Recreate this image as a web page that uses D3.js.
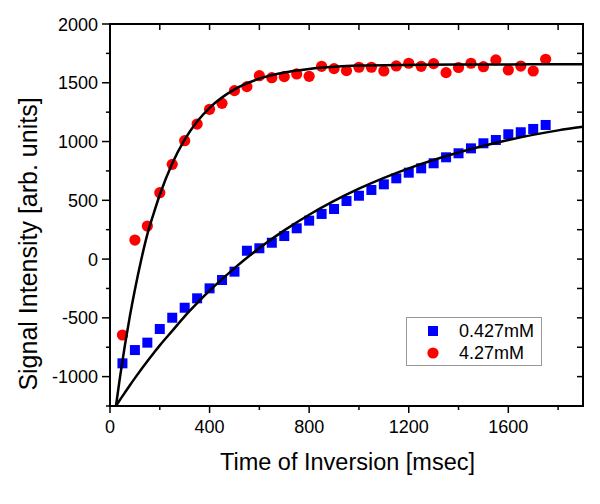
<!DOCTYPE html>
<html><head><meta charset="utf-8">
<script src="https://cdn.jsdelivr.net/npm/d3@7"></script>
<style>body{margin:0;background:#fff}svg{display:block}text{font-family:"Liberation Sans",Arial,sans-serif}</style>
</head><body>
<script>
// ---- data ----
const times = [50,100,150,200,250,300,350,400,450,500,550,600,650,700,750,800,850,900,950,1000,1050,1100,1150,1200,1250,1300,1350,1400,1450,1500,1550,1600,1650,1700,1750];
const low = [-887,-774,-711,-595,-499,-414,-334,-249,-178,-107,71,92,139,196,262,327,384,426,494,539,588,636,687,735,772,815,866,900,942,985,1013,1062,1079,1107,1141];
const high = [-646,162,281,565,806,1007,1149,1274,1325,1433,1467,1560,1543,1552,1575,1555,1640,1620,1603,1632,1632,1600,1643,1666,1640,1663,1586,1630,1666,1637,1694,1609,1642,1600,1700];
const fitT = [24,40,60,80,100,125,150,175,200,250,300,350,400,500,600,700,800,900,1000,1200,1400,1600,1800,1900];
const fitHigh = [-1250,-1006,-731,-483,-261,-10,210,385,547,814,1016,1170,1287,1444,1535,1588,1618,1636,1646,1652,1655,1656,1657,1657];
const fitLow = [-1250,-1198,-1135,-1073,-1013,-940,-869,-801,-734,-611,-487,-375,-269,-77,94,244,377,495,599,772,907,1013,1095,1125];
const seriesNames = ["0.427mM","4.27mM"];
const xTicks = [0,400,800,1200,1600];
const yTicks = [-1000,-500,0,500,1000,1500,2000];
const xLabel = "Time of Inversion [msec]";
const yLabel = "Signal Intensity [arb. units]";

// ---- layout ----
const W=600,H=504, L=110, T=24, R=583, B=406;
const svg = d3.select("body").append("svg").attr("width",W).attr("height",H);
const x = d3.scaleLinear().domain([0,1900]).range([L,R]);
const y = d3.scaleLinear().domain([-1250,2000]).range([B,T]);

svg.append("defs").append("clipPath").attr("id","clip")
  .append("rect").attr("x",L).attr("y",T).attr("width",R-L).attr("height",B-T);

// axes
const minorX = d3.range(0,1901,200);
const minorY = d3.range(-1250,2001,250);
const ax = svg.append("g").attr("stroke","#000").attr("stroke-width",1.5);
minorX.forEach(v=>{const len = v%400===0?7:4;
  ax.append("line").attr("x1",x(v)).attr("x2",x(v)).attr("y1",B).attr("y2",B+len);});
minorX.forEach(v=>{ax.append("line").attr("x1",x(v)).attr("x2",x(v)).attr("y1",T).attr("y2",T+6);});
minorY.forEach(v=>{const len = v%500===0?8:4;
  ax.append("line").attr("x1",L).attr("x2",L-len).attr("y1",y(v)).attr("y2",y(v));});
minorY.forEach(v=>{ax.append("line").attr("x1",R).attr("x2",R-6).attr("y1",y(v)).attr("y2",y(v));});
svg.append("rect").attr("x",L).attr("y",T).attr("width",R-L).attr("height",B-T)
  .attr("fill","none").attr("stroke","#000").attr("stroke-width",2);

// tick labels
svg.append("g").selectAll("text").data(xTicks).join("text")
  .attr("x",d=>x(d)).attr("y",433).attr("text-anchor","middle").attr("font-size",18).text(d=>d);
svg.append("g").selectAll("text").data(yTicks).join("text")
  .attr("x",98).attr("y",d=>y(d)+6.5).attr("text-anchor","end").attr("font-size",18).text(d=>d);

svg.append("text").attr("x",(L+R)/2+1).attr("y",470).attr("text-anchor","middle").attr("font-size",23.5).text(xLabel);
svg.append("text").attr("transform","translate(37,244) rotate(-90)").attr("text-anchor","middle").attr("font-size",25).text(yLabel);

// points
const g = svg.append("g").attr("clip-path","url(#clip)");
const sq = 10;
g.selectAll("rect.low").data(times).join("rect").attr("class","low")
  .attr("x",(d)=>x(d)-sq/2).attr("y",(d,i)=>y(low[i])-sq/2).attr("width",sq).attr("height",sq).attr("fill","#0000ff");
g.selectAll("circle.high").data(times).join("circle").attr("class","high")
  .attr("cx",d=>x(d)).attr("cy",(d,i)=>y(high[i])).attr("r",5.6).attr("fill","#ff0000");

// fit lines
const line = d3.line().curve(d3.curveMonotoneX).x(d=>x(d[0])).y(d=>y(d[1]));
[fitHigh,fitLow].forEach(arr=>{
  g.append("path").attr("d",line(fitT.map((t,i)=>[t,arr[i]]))).attr("fill","none")
   .attr("stroke","#000").attr("stroke-width",2.5);
});

// legend
const lg = svg.append("g");
lg.append("rect").attr("x",406.5).attr("y",317.5).attr("width",135).attr("height",48)
  .attr("fill","#fff").attr("stroke","#999").attr("stroke-width",1);
lg.append("rect").attr("x",433-sq/2).attr("y",331-sq/2).attr("width",sq).attr("height",sq).attr("fill","#0000ff");
lg.append("circle").attr("cx",433).attr("cy",353).attr("r",5.6).attr("fill","#ff0000");
lg.append("text").attr("x",459).attr("y",337).attr("font-size",18).text(seriesNames[0]);
lg.append("text").attr("x",459).attr("y",359).attr("font-size",18).text(seriesNames[1]);
</script>
</body></html>
